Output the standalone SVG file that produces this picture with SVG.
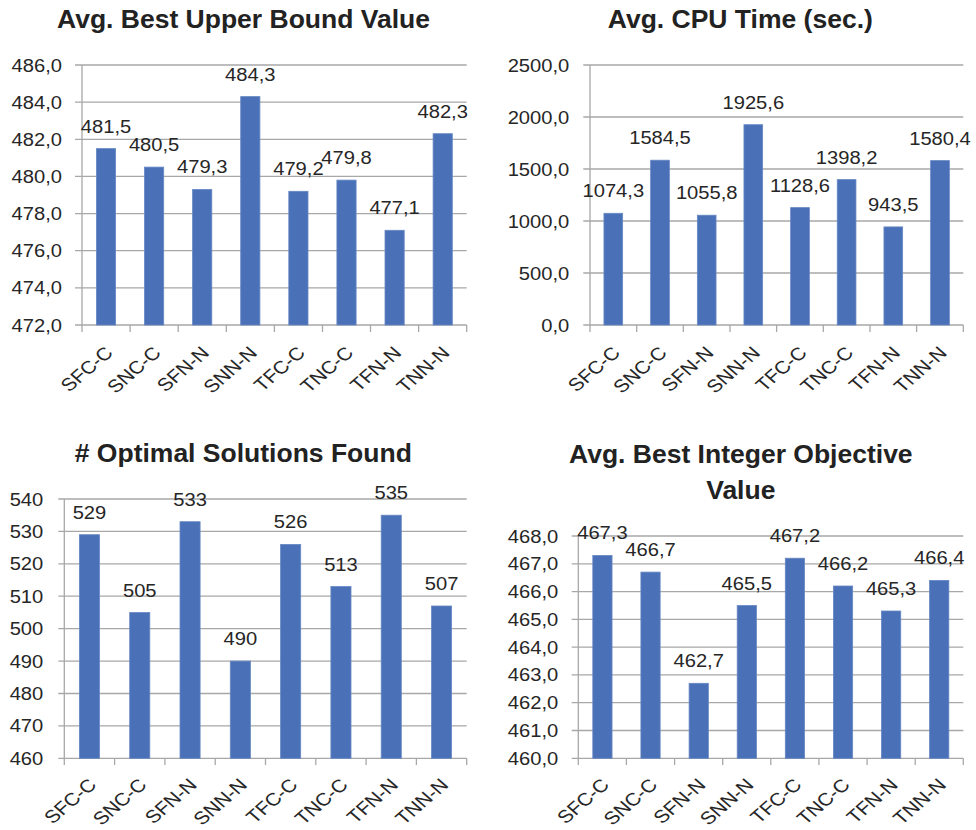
<svg xmlns="http://www.w3.org/2000/svg" width="976" height="830" viewBox="0 0 976 830">
<style>
.bg{fill:#ffffff}
.title{font-family:"Liberation Sans",Arial,sans-serif;font-weight:bold;font-size:26.5px;fill:#222222;text-anchor:middle}
.t{font-family:"Liberation Sans",Arial,sans-serif;font-size:18.5px;fill:#262626}
.x{font-family:"Liberation Sans",Arial,sans-serif;font-size:18px;fill:#262626;text-anchor:end}
.e{text-anchor:end}
.m{text-anchor:middle}
.grid{stroke:#a8a8a8;stroke-width:1.3;fill:none}
.bar{fill:#4a70b7;stroke:#6688c4;stroke-width:0.8}
</style>
<rect class="bg" x="0" y="0" width="976" height="830"/>

<!-- Chart 1 -->
<g id="chart-upper-bound">
<text class="title" x="243.5" y="28">Avg. Best Upper Bound Value</text>
<g id="c1-grid">
<path class="grid" d="M75 65H466.7M75 102.1H466.7M75 139.3H466.7M75 176.4H466.7M75 213.6H466.7M75 250.7H466.7M75 287.9H466.7M75 325H466.7M82 65V332M130.1 325V332M178.2 325V332M226.3 325V332M274.4 325V332M322.5 325V332M370.5 325V332M418.6 325V332M466.7 325V332"/>
</g>
<g id="c1-ylabels">
<text class="t e" transform="translate(62,71.5) scale(1.09,1)">486,0</text>
<text class="t e" transform="translate(62,108.6) scale(1.09,1)">484,0</text>
<text class="t e" transform="translate(62,145.8) scale(1.09,1)">482,0</text>
<text class="t e" transform="translate(62,182.9) scale(1.09,1)">480,0</text>
<text class="t e" transform="translate(62,220.1) scale(1.09,1)">478,0</text>
<text class="t e" transform="translate(62,257.2) scale(1.09,1)">476,0</text>
<text class="t e" transform="translate(62,294.4) scale(1.09,1)">474,0</text>
<text class="t e" transform="translate(62,331.5) scale(1.09,1)">472,0</text>
</g>
<g id="c1-bars">
<rect class="bar" x="96.4" y="148.6" width="19.2" height="176.4"/>
<rect class="bar" x="144.5" y="167.1" width="19.2" height="157.9"/>
<rect class="bar" x="192.6" y="189.4" width="19.2" height="135.6"/>
<rect class="bar" x="240.7" y="96.6" width="19.2" height="228.4"/>
<rect class="bar" x="288.8" y="191.3" width="19.2" height="133.7"/>
<rect class="bar" x="336.9" y="180.1" width="19.2" height="144.9"/>
<rect class="bar" x="385" y="230.3" width="19.2" height="94.7"/>
<rect class="bar" x="433.1" y="133.7" width="19.2" height="191.3"/>
</g>
<g id="c1-values">
<text class="t m" transform="translate(106,132.6) scale(1.09,1)">481,5</text>
<text class="t m" transform="translate(154.1,151.1) scale(1.09,1)">480,5</text>
<text class="t m" transform="translate(202.2,173.4) scale(1.09,1)">479,3</text>
<text class="t m" transform="translate(250.3,80.6) scale(1.09,1)">484,3</text>
<text class="t m" transform="translate(298.4,175.3) scale(1.09,1)">479,2</text>
<text class="t m" transform="translate(346.5,164.1) scale(1.09,1)">479,8</text>
<text class="t m" transform="translate(394.6,214.3) scale(1.09,1)">477,1</text>
<text class="t m" transform="translate(442.7,117.7) scale(1.09,1)">482,3</text>
</g>
<g id="c1-xlabels">
<text class="x" transform="translate(114,354) scale(1.15,1) rotate(-45)">SFC-C</text>
<text class="x" transform="translate(162.1,354) scale(1.15,1) rotate(-45)">SNC-C</text>
<text class="x" transform="translate(210.2,354) scale(1.15,1) rotate(-45)">SFN-N</text>
<text class="x" transform="translate(258.3,354) scale(1.15,1) rotate(-45)">SNN-N</text>
<text class="x" transform="translate(306.4,354) scale(1.15,1) rotate(-45)">TFC-C</text>
<text class="x" transform="translate(354.5,354) scale(1.15,1) rotate(-45)">TNC-C</text>
<text class="x" transform="translate(402.6,354) scale(1.15,1) rotate(-45)">TFN-N</text>
<text class="x" transform="translate(450.7,354) scale(1.15,1) rotate(-45)">TNN-N</text>
</g>
</g>

<!-- Chart 2 -->
<g id="chart-cpu-time">
<text class="title" x="740.3" y="28">Avg. CPU Time (sec.)</text>
<g id="c2-grid">
<path class="grid" d="M583.3 65H963.3M583.3 117H963.3M583.3 169H963.3M583.3 221H963.3M583.3 273H963.3M583.3 325H963.3M590 65V332M636.7 325V332M683.3 325V332M730 325V332M776.6 325V332M823.3 325V332M870 325V332M916.6 325V332M963.3 325V332"/>
</g>
<g id="c2-ylabels">
<text class="t e" transform="translate(569.3,71.5) scale(1.09,1)">2500,0</text>
<text class="t e" transform="translate(569.3,123.5) scale(1.09,1)">2000,0</text>
<text class="t e" transform="translate(569.3,175.5) scale(1.09,1)">1500,0</text>
<text class="t e" transform="translate(569.3,227.5) scale(1.09,1)">1000,0</text>
<text class="t e" transform="translate(569.3,279.5) scale(1.09,1)">500,0</text>
<text class="t e" transform="translate(569.3,331.5) scale(1.09,1)">0,0</text>
</g>
<g id="c2-bars">
<rect class="bar" x="603.95" y="213.3" width="18.7" height="111.7"/>
<rect class="bar" x="650.65" y="160.2" width="18.7" height="164.8"/>
<rect class="bar" x="697.35" y="215.2" width="18.7" height="109.8"/>
<rect class="bar" x="743.95" y="124.7" width="18.7" height="200.3"/>
<rect class="bar" x="790.65" y="207.6" width="18.7" height="117.4"/>
<rect class="bar" x="837.25" y="179.6" width="18.7" height="145.4"/>
<rect class="bar" x="883.95" y="226.9" width="18.7" height="98.1"/>
<rect class="bar" x="930.65" y="160.6" width="18.7" height="164.4"/>
</g>
<g id="c2-values">
<text class="t m" transform="translate(613.3,197.3) scale(1.09,1)">1074,3</text>
<text class="t m" transform="translate(660,144.2) scale(1.09,1)">1584,5</text>
<text class="t m" transform="translate(706.7,199.2) scale(1.09,1)">1055,8</text>
<text class="t m" transform="translate(753.3,108.7) scale(1.09,1)">1925,6</text>
<text class="t m" transform="translate(800,191.6) scale(1.09,1)">1128,6</text>
<text class="t m" transform="translate(846.6,163.6) scale(1.09,1)">1398,2</text>
<text class="t m" transform="translate(893.3,210.9) scale(1.09,1)">943,5</text>
<text class="t m" transform="translate(940,144.6) scale(1.09,1)">1580,4</text>
</g>
<g id="c2-xlabels">
<text class="x" transform="translate(621.3,354) scale(1.15,1) rotate(-45)">SFC-C</text>
<text class="x" transform="translate(668,354) scale(1.15,1) rotate(-45)">SNC-C</text>
<text class="x" transform="translate(714.7,354) scale(1.15,1) rotate(-45)">SFN-N</text>
<text class="x" transform="translate(761.3,354) scale(1.15,1) rotate(-45)">SNN-N</text>
<text class="x" transform="translate(808,354) scale(1.15,1) rotate(-45)">TFC-C</text>
<text class="x" transform="translate(854.6,354) scale(1.15,1) rotate(-45)">TNC-C</text>
<text class="x" transform="translate(901.3,354) scale(1.15,1) rotate(-45)">TFN-N</text>
<text class="x" transform="translate(948,354) scale(1.15,1) rotate(-45)">TNN-N</text>
</g>
</g>

<!-- Chart 3 -->
<g id="chart-optimal">
<text class="title" x="243.3" y="462"># Optimal Solutions Found</text>
<g id="c3-grid">
<path class="grid" d="M58.3 499H466.7M58.3 531.4H466.7M58.3 563.8H466.7M58.3 596.2H466.7M58.3 628.6H466.7M58.3 661.1H466.7M58.3 693.5H466.7M58.3 725.9H466.7M58.3 758.3H466.7M64.3 499V765M114.6 758.3V765M164.9 758.3V765M215.2 758.3V765M265.5 758.3V765M315.8 758.3V765M366.1 758.3V765M416.4 758.3V765M466.7 758.3V765"/>
</g>
<g id="c3-ylabels">
<text class="t e" transform="translate(43.3,505.5) scale(1.09,1)">540</text>
<text class="t e" transform="translate(43.3,537.9) scale(1.09,1)">530</text>
<text class="t e" transform="translate(43.3,570.3) scale(1.09,1)">520</text>
<text class="t e" transform="translate(43.3,602.7) scale(1.09,1)">510</text>
<text class="t e" transform="translate(43.3,635.1) scale(1.09,1)">500</text>
<text class="t e" transform="translate(43.3,667.6) scale(1.09,1)">490</text>
<text class="t e" transform="translate(43.3,700) scale(1.09,1)">480</text>
<text class="t e" transform="translate(43.3,732.4) scale(1.09,1)">470</text>
<text class="t e" transform="translate(43.3,764.8) scale(1.09,1)">460</text>
</g>
<g id="c3-bars">
<rect class="bar" x="79.4" y="534.7" width="20.1" height="223.6"/>
<rect class="bar" x="129.7" y="612.5" width="20.1" height="145.8"/>
<rect class="bar" x="180" y="521.7" width="20.1" height="236.6"/>
<rect class="bar" x="230.3" y="661.1" width="20.1" height="97.2"/>
<rect class="bar" x="280.6" y="544.4" width="20.1" height="213.9"/>
<rect class="bar" x="330.9" y="586.5" width="20.1" height="171.8"/>
<rect class="bar" x="381.2" y="515.2" width="20.1" height="243.1"/>
<rect class="bar" x="431.5" y="606" width="20.1" height="152.3"/>
</g>
<g id="c3-values">
<text class="t m" transform="translate(89.45,518.7) scale(1.09,1)">529</text>
<text class="t m" transform="translate(139.75,596.5) scale(1.09,1)">505</text>
<text class="t m" transform="translate(190.05,505.7) scale(1.09,1)">533</text>
<text class="t m" transform="translate(240.35,645.1) scale(1.09,1)">490</text>
<text class="t m" transform="translate(290.65,528.4) scale(1.09,1)">526</text>
<text class="t m" transform="translate(340.95,570.5) scale(1.09,1)">513</text>
<text class="t m" transform="translate(391.25,499.2) scale(1.09,1)">535</text>
<text class="t m" transform="translate(441.55,590) scale(1.09,1)">507</text>
</g>
<g id="c3-xlabels">
<text class="x" transform="translate(97.5,786) scale(1.15,1) rotate(-45)">SFC-C</text>
<text class="x" transform="translate(147.8,786) scale(1.15,1) rotate(-45)">SNC-C</text>
<text class="x" transform="translate(198.1,786) scale(1.15,1) rotate(-45)">SFN-N</text>
<text class="x" transform="translate(248.4,786) scale(1.15,1) rotate(-45)">SNN-N</text>
<text class="x" transform="translate(298.7,786) scale(1.15,1) rotate(-45)">TFC-C</text>
<text class="x" transform="translate(349,786) scale(1.15,1) rotate(-45)">TNC-C</text>
<text class="x" transform="translate(399.3,786) scale(1.15,1) rotate(-45)">TFN-N</text>
<text class="x" transform="translate(449.6,786) scale(1.15,1) rotate(-45)">TNN-N</text>
</g>
</g>

<!-- Chart 4 -->
<g id="chart-integer-objective">
<text class="title" x="740.8" y="463">Avg. Best Integer Objective</text>
<text class="title" x="740.8" y="498.5">Value</text>
<g id="c4-grid">
<path class="grid" d="M571.7 536H963.3M571.7 563.8H963.3M571.7 591.6H963.3M571.7 619.4H963.3M571.7 647.2H963.3M571.7 674.9H963.3M571.7 702.7H963.3M571.7 730.5H963.3M571.7 758.3H963.3M578.3 536V765M626.4 758.3V765M674.6 758.3V765M722.7 758.3V765M770.8 758.3V765M818.9 758.3V765M867.1 758.3V765M915.2 758.3V765M963.3 758.3V765"/>
</g>
<g id="c4-ylabels">
<text class="t e" transform="translate(558.3,542.5) scale(1.09,1)">468,0</text>
<text class="t e" transform="translate(558.3,570.3) scale(1.09,1)">467,0</text>
<text class="t e" transform="translate(558.3,598.1) scale(1.09,1)">466,0</text>
<text class="t e" transform="translate(558.3,625.9) scale(1.09,1)">465,0</text>
<text class="t e" transform="translate(558.3,653.7) scale(1.09,1)">464,0</text>
<text class="t e" transform="translate(558.3,681.4) scale(1.09,1)">463,0</text>
<text class="t e" transform="translate(558.3,709.2) scale(1.09,1)">462,0</text>
<text class="t e" transform="translate(558.3,737) scale(1.09,1)">461,0</text>
<text class="t e" transform="translate(558.3,764.8) scale(1.09,1)">460,0</text>
</g>
<g id="c4-bars">
<rect class="bar" x="592.8" y="555.4" width="19.25" height="202.9"/>
<rect class="bar" x="640.9" y="572.1" width="19.25" height="186.2"/>
<rect class="bar" x="689.1" y="683.3" width="19.25" height="75"/>
<rect class="bar" x="737.2" y="605.5" width="19.25" height="152.8"/>
<rect class="bar" x="785.3" y="558.2" width="19.25" height="200.1"/>
<rect class="bar" x="833.4" y="586" width="19.25" height="172.3"/>
<rect class="bar" x="881.5" y="611" width="19.25" height="147.3"/>
<rect class="bar" x="929.6" y="580.4" width="19.25" height="177.9"/>
</g>
<g id="c4-values">
<text class="t m" transform="translate(602.4,539.4) scale(1.09,1)">467,3</text>
<text class="t m" transform="translate(650.5,556.1) scale(1.09,1)">466,7</text>
<text class="t m" transform="translate(698.7,667.3) scale(1.09,1)">462,7</text>
<text class="t m" transform="translate(746.8,589.5) scale(1.09,1)">465,5</text>
<text class="t m" transform="translate(794.9,542.2) scale(1.09,1)">467,2</text>
<text class="t m" transform="translate(843,570) scale(1.09,1)">466,2</text>
<text class="t m" transform="translate(891.1,595) scale(1.09,1)">465,3</text>
<text class="t m" transform="translate(939.2,564.4) scale(1.09,1)">466,4</text>
</g>
<g id="c4-xlabels">
<text class="x" transform="translate(610.4,786) scale(1.15,1) rotate(-45)">SFC-C</text>
<text class="x" transform="translate(658.5,786) scale(1.15,1) rotate(-45)">SNC-C</text>
<text class="x" transform="translate(706.7,786) scale(1.15,1) rotate(-45)">SFN-N</text>
<text class="x" transform="translate(754.8,786) scale(1.15,1) rotate(-45)">SNN-N</text>
<text class="x" transform="translate(802.9,786) scale(1.15,1) rotate(-45)">TFC-C</text>
<text class="x" transform="translate(851,786) scale(1.15,1) rotate(-45)">TNC-C</text>
<text class="x" transform="translate(899.1,786) scale(1.15,1) rotate(-45)">TFN-N</text>
<text class="x" transform="translate(947.2,786) scale(1.15,1) rotate(-45)">TNN-N</text>
</g>
</g>
</svg>
